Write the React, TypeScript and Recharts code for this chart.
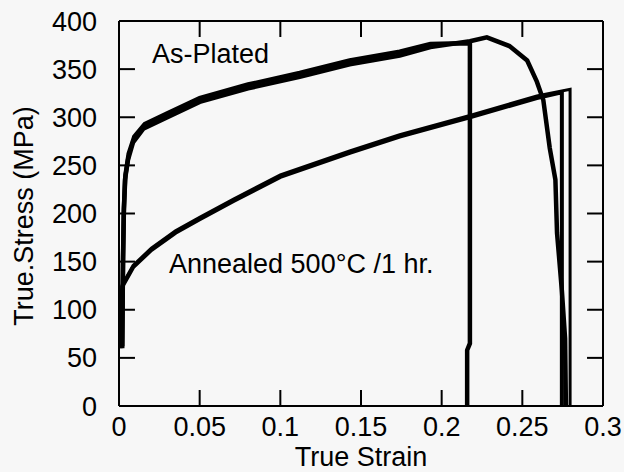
import React from "react";
import { LineChart, Line, XAxis, YAxis, ReferenceLine } from "recharts";

// tick values
const strainTicks = [0, 0.05, 0.1, 0.15, 0.2, 0.25, 0.3];
const stressTicks = [0, 50, 100, 150, 200, 250, 300, 350, 400];

// inner tick marks (frame decoration), about 16px long
const innerStrainTicks = [0.05, 0.1, 0.15, 0.2, 0.25];
const innerStressTicks = [50, 100, 150, 200, 250, 300, 350];
const tickLenX = 0.0099;
const tickLenY = 16.6;

// As-Plated, specimen 1 (necks and fails near 0.277)
const asPlatedA = [
  { strain: 0.002, stress: 60 },
  { strain: 0.0025, stress: 150 },
  { strain: 0.003, stress: 200 },
  { strain: 0.0037, stress: 235 },
  { strain: 0.0056, stress: 256 },
  { strain: 0.0087, stress: 274 },
  { strain: 0.015, stress: 288 },
  { strain: 0.03, stress: 300 },
  { strain: 0.05, stress: 316 },
  { strain: 0.08, stress: 330 },
  { strain: 0.112, stress: 342 },
  { strain: 0.143, stress: 355 },
  { strain: 0.174, stress: 364 },
  { strain: 0.193, stress: 373 },
  { strain: 0.2175, stress: 379 },
  { strain: 0.228, stress: 383 },
  { strain: 0.242, stress: 374 },
  { strain: 0.253, stress: 359 },
  { strain: 0.259, stress: 337 },
  { strain: 0.263, stress: 318 },
  { strain: 0.267, stress: 268 },
  { strain: 0.2705, stress: 235 },
  { strain: 0.2715, stress: 180 },
  { strain: 0.2745, stress: 120 },
  { strain: 0.2765, stress: 70 },
  { strain: 0.277, stress: 0 },
];

// As-Plated, specimen 2 (breaks at 0.2175)
const asPlatedB = [
  { strain: 0.002, stress: 62 },
  { strain: 0.0025, stress: 155 },
  { strain: 0.003, stress: 205 },
  { strain: 0.004, stress: 240 },
  { strain: 0.006, stress: 262 },
  { strain: 0.0095, stress: 280 },
  { strain: 0.016, stress: 293 },
  { strain: 0.03, stress: 304 },
  { strain: 0.05, stress: 320 },
  { strain: 0.08, stress: 334 },
  { strain: 0.112, stress: 346 },
  { strain: 0.143, stress: 359 },
  { strain: 0.174, stress: 368 },
  { strain: 0.193, stress: 376 },
  { strain: 0.2175, stress: 377 },
  { strain: 0.2175, stress: 65 },
  { strain: 0.2158, stress: 58 },
  { strain: 0.2158, stress: 0 },
];

// Annealed 500C / 1 hr, two specimens
const annealedA = [
  { strain: 0.001, stress: 60 },
  { strain: 0.0015, stress: 110 },
  { strain: 0.002, stress: 124 },
  { strain: 0.0087, stress: 144 },
  { strain: 0.02, stress: 162 },
  { strain: 0.035, stress: 180 },
  { strain: 0.05, stress: 194 },
  { strain: 0.071, stress: 213 },
  { strain: 0.1, stress: 238 },
  { strain: 0.143, stress: 263 },
  { strain: 0.174, stress: 280 },
  { strain: 0.2175, stress: 300 },
  { strain: 0.259, stress: 320 },
  { strain: 0.2745, stress: 326 },
  { strain: 0.2745, stress: 0 },
];

const annealedB = [
  { strain: 0.001, stress: 62 },
  { strain: 0.0015, stress: 112 },
  { strain: 0.002, stress: 126 },
  { strain: 0.0087, stress: 146 },
  { strain: 0.02, stress: 164 },
  { strain: 0.035, stress: 182 },
  { strain: 0.05, stress: 196 },
  { strain: 0.071, stress: 215 },
  { strain: 0.1, stress: 240 },
  { strain: 0.143, stress: 265 },
  { strain: 0.174, stress: 282 },
  { strain: 0.2175, stress: 302 },
  { strain: 0.259, stress: 322 },
  { strain: 0.2796, stress: 329 },
  { strain: 0.2796, stress: 0 },
];

const font = "'Liberation Sans', Arial, Helvetica, sans-serif";
const tickStyle = { fill: "#000", fontSize: 27, fontFamily: font };
const axisLine = { stroke: "#000", strokeWidth: 2 };

export default function App() {
  return (
    <div
      style={{
        position: "absolute",
        left: 0,
        top: 0,
        width: 624,
        height: 472,
        background: "#f7f7f7",
      }}
    >
      <LineChart
        width={624}
        height={472}
        margin={{ top: 21, right: 21, bottom: 0, left: 0 }}
      >
        <XAxis
          dataKey="strain"
          type="number"
          domain={[0, 0.3]}
          ticks={strainTicks}
          allowDataOverflow
          height={66}
          tickLine={false}
          tickMargin={5}
          tick={tickStyle}
          axisLine={axisLine}
          label={{
            content: () => (
              <text
                x={361}
                y={466}
                textAnchor="middle"
                fontSize={27}
                fontFamily={font}
                fill="#000"
              >
                True Strain
              </text>
            ),
          }}
        />
        <YAxis
          type="number"
          domain={[0, 400]}
          ticks={stressTicks}
          allowDataOverflow
          width={119}
          tickLine={false}
          tickMargin={16}
          tick={tickStyle}
          axisLine={axisLine}
          label={{
            content: () => (
              <text
                x={24}
                y={216}
                transform="rotate(-90 24 216)"
                textAnchor="middle"
                dominantBaseline="central"
                fontSize={27}
                fontFamily={font}
                fill="#000"
              >
                True.Stress (MPa)
              </text>
            ),
          }}
        />
        {/* frame */}
        <ReferenceLine x={0.3} stroke="#000" strokeWidth={2} />
        <ReferenceLine y={400} stroke="#000" strokeWidth={2} />
        {innerStrainTicks.map((t) => (
          <ReferenceLine
            key={"b" + t}
            segment={[
              { x: t, y: 0 },
              { x: t, y: tickLenY },
            ]}
            stroke="#000"
            strokeWidth={2}
          />
        ))}
        {innerStrainTicks.map((t) => (
          <ReferenceLine
            key={"t" + t}
            segment={[
              { x: t, y: 400 },
              { x: t, y: 400 - tickLenY },
            ]}
            stroke="#000"
            strokeWidth={2}
          />
        ))}
        {innerStressTicks.map((t) => (
          <ReferenceLine
            key={"l" + t}
            segment={[
              { x: 0, y: t },
              { x: tickLenX, y: t },
            ]}
            stroke="#000"
            strokeWidth={2}
          />
        ))}
        {innerStressTicks.map((t) => (
          <ReferenceLine
            key={"r" + t}
            segment={[
              { x: 0.3, y: t },
              { x: 0.3 - tickLenX, y: t },
            ]}
            stroke="#000"
            strokeWidth={2}
          />
        ))}
        <Line
          data={asPlatedB}
          dataKey="stress"
          type="linear"
          stroke="#000"
          strokeWidth={4.5}
          dot={false}
          isAnimationActive={false}
        />
        <Line
          data={asPlatedA}
          dataKey="stress"
          type="linear"
          stroke="#000"
          strokeWidth={4.5}
          dot={false}
          isAnimationActive={false}
        />
        <Line
          data={annealedA}
          dataKey="stress"
          type="linear"
          stroke="#000"
          strokeWidth={4}
          dot={false}
          isAnimationActive={false}
        />
        <Line
          data={annealedB}
          dataKey="stress"
          type="linear"
          stroke="#000"
          strokeWidth={3}
          dot={false}
          isAnimationActive={false}
        />
      </LineChart>
      <svg
        width={624}
        height={472}
        style={{ position: "absolute", left: 0, top: 0, pointerEvents: "none" }}
      >
        <text x={152} y={63} fontSize={27} fontFamily={font} fill="#000">
          As-Plated
        </text>
        <text x={169} y={273} fontSize={27} fontFamily={font} fill="#000">
          Annealed 500°C /1 hr.
        </text>
      </svg>
    </div>
  );
}
